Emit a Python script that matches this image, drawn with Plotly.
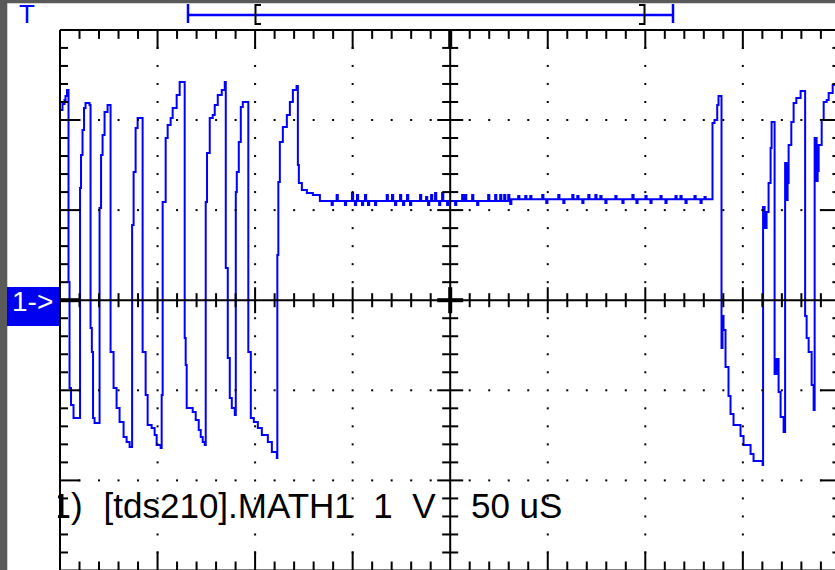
import plotly.graph_objects as go

# ---------------- data read from the capture ----------------
# x: time in microseconds from the left edge of the graticule (50 uS/div)
# y: MATH1 in volts (1 V/div, 0 V at the "1->" marker)
burst1_t = [0.26, 1.28, 2.31, 2.82, 3.59, 4.11, 4.36, 4.88, 5.65, 6.93,
            10.01, 10.27, 10.78, 11.55, 12.32, 13.09, 15.14, 15.66, 16.32, 16.94,
            17.71, 19.25, 20.28, 21.05, 21.82, 22.84, 24.38, 25.41, 25.92, 27.46,
            29.00, 30.54, 32.59, 34.14, 35.68, 36.70, 36.96, 37.73, 38.76, 39.78,
            41.84, 42.35, 43.89, 44.92, 46.97, 48.51, 49.54, 51.59, 52.11, 52.62,
            54.16, 55.18, 56.72, 57.75, 59.80, 61.34, 63.40, 63.91, 64.42, 64.94,
            68.02, 69.56, 71.10, 72.13, 73.15, 74.18, 74.69, 75.36, 76.75, 78.29,
            79.32, 80.86, 82.91, 84.45, 84.97, 85.99, 87.02, 88.05, 89.59, 90.10,
            90.62, 91.64, 92.67, 93.70, 96.26, 96.52, 97.80, 99.35, 101.40, 103.45,
            106.53, 108.59, 111.15, 111.40, 111.91, 112.68, 114.22, 116.28, 117.82, 119.36,
            121.25, 121.92, 122.43, 123.97, 126.54, 129.62, 133.21]
burst1_v = [2.111, 2.178, 2.222, 2.266, 2.333, 2.333, 0.202, -0.974, -1.163, -1.307,
            -1.307, 1.245, 1.612, 1.889, 2.133, 2.189, 2.166, -0.309, -0.575, -1.307,
            -1.363, -1.363, 1.023, 1.612, 1.834, 2.089, 2.166, 2.166, -0.575, -0.974,
            -1.196, -1.352, -1.518, -1.574, -1.629, -1.629, 0.835, 1.423, 1.911, 2.022,
            2.022, -0.575, -1.052, -1.385, -1.418, -1.496, -1.607, -1.640, -1.052, 1.090,
            1.800, 1.944, 2.022, 2.133, 2.277, 2.422, 2.422, -0.420, -0.719, -1.196,
            -1.241, -1.330, -1.441, -1.518, -1.574, -1.607, 1.090, 1.634, 2.022, 2.055,
            2.166, 2.277, 2.333, 2.422, 0.357, -0.642, -1.085, -1.196, -1.274, 1.201,
            1.423, 1.756, 2.144, 2.200, 2.200, -0.575, -1.307, -1.352, -1.418, -1.496,
            -1.574, -1.685, -1.751, 0.502, 1.312, 1.756, 1.922, 2.055, 2.200, 2.333,
            2.377, 1.501, 1.301, 1.223, 1.190, 1.168, 1.100]

idle_t = [139.22, 139.82, 141.79, 142.39, 146.05, 146.65, 149.64, 150.24, 151.18, 151.78,
          152.21, 152.81, 154.78, 155.38, 156.32, 156.92, 157.86, 158.46, 161.45, 162.05,
          167.46, 168.06, 170.18, 170.78, 171.72, 172.32, 174.29, 174.89, 175.83, 176.43,
          177.88, 178.48, 179.42, 180.02, 184.55, 185.15, 187.63, 188.23, 188.66, 189.26,
          190.20, 190.80, 192.25, 192.85, 194.31, 194.91, 195.85, 196.45, 198.41, 199.01,
          202.52, 203.12, 206.11, 206.71, 207.65, 208.25, 211.25, 211.85, 213.81, 214.41,
          219.46, 220.06, 223.05, 223.65, 225.62, 226.22, 227.67, 228.27, 229.73, 230.33,
          230.75, 231.35, 234.86, 235.46, 238.45, 239.05, 241.02, 241.62, 247.18, 247.78,
          249.23, 249.83, 255.39, 255.99, 257.96, 258.56, 262.58, 263.18, 265.15, 265.75,
          267.71, 268.31, 270.79, 271.39, 274.39, 274.99, 276.95, 277.55, 279.52, 280.12,
          284.65, 285.25, 288.25, 288.85, 293.38, 293.98, 295.44, 296.04, 300.06, 300.66,
          302.62, 303.22, 307.76, 308.36, 310.32, 310.92, 315.46, 316.06, 318.02, 318.62,
          320.59, 321.19, 325.21, 325.81, 328.29, 328.89, 330.34, 330.94, 334.29]
idle_v = [1.057, 1.100, 1.168, 1.100, 1.057, 1.100, 1.190, 1.100, 1.057, 1.100,
          1.168, 1.100, 1.057, 1.100, 1.168, 1.100, 1.057, 1.100, 1.057, 1.100,
          1.168, 1.100, 1.168, 1.100, 1.057, 1.100, 1.168, 1.100, 1.057, 1.100,
          1.168, 1.100, 1.057, 1.100, 1.168, 1.100, 1.145, 1.100, 1.057, 1.100,
          1.168, 1.100, 1.190, 1.100, 1.057, 1.100, 1.190, 1.100, 1.057, 1.100,
          1.057, 1.100, 1.168, 1.100, 1.168, 1.100, 1.168, 1.100, 1.057, 1.100,
          1.168, 1.100, 1.168, 1.100, 1.168, 1.100, 1.168, 1.100, 1.168, 1.120,
          1.068, 1.120, 1.156, 1.120, 1.156, 1.120, 1.156, 1.120, 1.168, 1.120,
          1.079, 1.120, 1.168, 1.120, 1.079, 1.120, 1.168, 1.120, 1.156, 1.120,
          1.079, 1.120, 1.168, 1.120, 1.168, 1.120, 1.156, 1.120, 1.079, 1.120,
          1.156, 1.120, 1.079, 1.120, 1.168, 1.120, 1.079, 1.120, 1.156, 1.120,
          1.079, 1.120, 1.156, 1.120, 1.079, 1.120, 1.156, 1.120, 1.156, 1.120,
          1.079, 1.120, 1.156, 1.120, 1.079, 1.120, 1.145, 1.120, 1.120]

burst2_t = [334.44, 335.47, 336.86, 337.52, 338.81, 339.06, 339.57, 340.09, 341.11, 342.65,
            343.68, 345.22, 347.27, 348.81, 350.35, 353.95, 355.49, 360.11, 360.37, 361.14,
            362.16, 363.19, 364.22, 364.73, 366.02, 366.27, 367.30, 368.32, 369.35, 370.89,
            371.40, 371.66, 372.43, 372.94, 373.46, 374.84, 376.02, 377.41, 379.61, 381.67,
            381.92, 382.69, 383.72, 385.26, 386.28, 386.80, 387.83, 388.34, 388.86, 390.40,
            391.43, 392.97, 393.99, 396.05, 398.10]
burst2_v = [1.967, 2.000, 2.166, 2.266, 2.266, -0.531, -0.175, -0.331, -0.741, -1.063,
            -1.263, -1.385, -1.385, -1.507, -1.607, -1.707, -1.785, -1.829, 1.034, 0.801,
            0.979, 1.301, 1.689, 1.978, 1.978, -0.819, -0.653, -1.019, -1.296, -1.463,
            -1.463, 1.523, 1.112, 1.301, 1.723, 1.978, 2.189, 2.244, 2.322, 2.322,
            -0.175, -0.420, -0.575, -0.941, -1.219, 1.800, 1.323, 1.434, 1.723, 2.000,
            2.200, 2.222, 2.300, 2.388, 2.488]

# readout texts
readout_texts = ["1)", "[tds210].MATH1", "1", "V", "50 uS"]
channel_marker = "1->"
trigger_marker = "T"

US_PER_DIV = 50
V_PER_DIV = 1
X_DIVS = 8
Y_TOP, Y_BOT = 3, -3

# ---------------- geometry / styling ----------------
W, H = 835, 570
PLOT_L, PLOT_T = 58, 27
PLOT_W, PLOT_H = W - PLOT_L, H - PLOT_T
PX_PER_US = 97.55 / US_PER_DIV
PX_PER_V = 90.1 / V_PER_DIV
X0_PX = 60.0      # pixel of t = 0
Y0_PX = 300.2     # pixel of v = 0

x_range = [(PLOT_L - X0_PX) / PX_PER_US, (W - X0_PX) / PX_PER_US]
y_range = [(Y0_PX - H) / PX_PER_V, (Y0_PX - PLOT_T) / PX_PER_V]


def dxu(px):
    return px / PX_PER_US


def dyu(px):
    return px / PX_PER_V


def pxx(px):
    return (px - PLOT_L) / PLOT_W


def pxy(py):
    return (PLOT_T + PLOT_H - py) / PLOT_H


BLUE = "#0000ff"
FONT = "Liberation Sans, Arial, sans-serif"
wave_t = burst1_t + idle_t + burst2_t
wave_v = burst1_v + idle_v + burst2_v
assert len(wave_t) == len(wave_v)

t_end = X_DIVS * US_PER_DIV
t_mid = t_end / 2
minor_t = US_PER_DIV / 5
minor_v = V_PER_DIV / 5

# graticule segments
seg_x, seg_y = [], []
thick_x, thick_y = [], []


def seg(x0, y0, x1, y1, thick=False):
    tx, ty = (thick_x, thick_y) if thick else (seg_x, seg_y)
    tx.extend([x0, x1, None])
    ty.extend([y0, y1, None])


seg(0, Y_BOT, 0, Y_TOP)
seg(0, Y_TOP, t_end, Y_TOP)
seg(t_end, Y_BOT, t_end, Y_TOP)
seg(0, Y_BOT, t_end, Y_BOT)
seg(t_mid, Y_BOT, t_mid, Y_TOP)
seg(0, 0, t_end, 0)

n_xminor = X_DIVS * 5
for i in range(1, n_xminor):
    t = i * minor_t
    if i == n_xminor // 2:
        continue
    major = i % 5 == 0
    L = dyu(19 if major else 9)
    seg(t, Y_TOP, t, Y_TOP - L)
    seg(t, Y_BOT, t, Y_BOT + L)
    h = dyu(13 if major else 7)
    seg(t, -h, t, h)

n_yminor = int(round((Y_TOP - Y_BOT) / minor_v))
for j in range(1, n_yminor):
    v = Y_BOT + j * minor_v
    if j == n_yminor // 2:
        continue
    major = j % 5 == 0
    L = dxu(20 if major else 8)
    seg(0, v, L, v)
    seg(t_end, v, t_end - L, v)
    h = dxu(13 if major else 8)
    seg(t_mid - h, v, t_mid + h, v)

# thicker marks at the centre crossing and where the centre lines meet the frame
seg(t_mid - dxu(13), 0, t_mid + dxu(13), 0, thick=True)
seg(t_mid, -dyu(13), t_mid, dyu(13), thick=True)
seg(t_mid, Y_TOP, t_mid, Y_TOP - dyu(19), thick=True)
seg(0, 0, dxu(19), 0, thick=True)

# dotted graticule
dot_x, dot_y = [], []
for v in range(Y_BOT + 1, Y_TOP):
    if v == 0:
        continue
    for i in range(1, n_xminor):
        if i == n_xminor // 2:
            continue
        dot_x.append(i * minor_t)
        dot_y.append(v)
for k in range(1, X_DIVS):
    if k == X_DIVS // 2:
        continue
    for j in range(1, n_yminor):
        if j % 5 == 0:
            continue
        dot_x.append(k * US_PER_DIV)
        dot_y.append(Y_BOT + j * minor_v)

fig = go.Figure()
fig.add_trace(go.Scatter(x=wave_t, y=wave_v, mode="lines",
                         line=dict(color=BLUE, width=2, shape="hv"),
                         hoverinfo="skip"))
fig.add_trace(go.Scatter(x=dot_x, y=dot_y, mode="markers",
                         marker=dict(symbol="square", size=2, color="black",
                                     line=dict(width=0)),
                         hoverinfo="skip"))
fig.add_trace(go.Scatter(x=seg_x, y=seg_y, mode="lines",
                         line=dict(color="black", width=2), hoverinfo="skip"))
fig.add_trace(go.Scatter(x=thick_x, y=thick_y, mode="lines",
                         line=dict(color="black", width=4), hoverinfo="skip"))

# readout line, clipped by the graticule
text_px = [67.0, 228.7, 383.0, 423.9, 516.7]
text_t = [(p - X0_PX) / PX_PER_US for p in text_px]
text_v = [(Y0_PX - 509.0) / PX_PER_V] * len(text_px)
fig.add_trace(go.Scatter(x=text_t, y=text_v, mode="text", text=readout_texts,
                         textposition="middle center",
                         textfont=dict(family=FONT, size=35, color="black"),
                         hoverinfo="skip", cliponaxis=True))

shapes = []


def rect(x0, y0, x1, y1, color):
    shapes.append(dict(type="rect", xref="paper", yref="paper",
                       x0=pxx(x0), x1=pxx(x1), y0=pxy(y1), y1=pxy(y0),
                       fillcolor=color, line=dict(width=0), layer="above"))


def pline(x0, y0, x1, y1, color, width=2):
    shapes.append(dict(type="line", xref="paper", yref="paper",
                       x0=pxx(x0), x1=pxx(x1), y0=pxy(y0), y1=pxy(y1),
                       line=dict(color=color, width=width), layer="above"))


GREY = "#5a5a5a"
rect(0, 0, 7.3, H, GREY)
rect(0, 0, W, 3.3, GREY)
rect(7, 287, 59, 326, "#0000f0")

# record-window bracket at the top
pline(188, 15, 673, 15, BLUE, 2.5)
pline(188, 4, 188, 23, BLUE, 2.5)
pline(673, 4, 673, 23, BLUE, 2.5)
pline(255.5, 4, 255.5, 25, "black", 2)
pline(255.5, 5, 261, 5, "black", 2)
pline(255.5, 24, 261, 24, "black", 2)
pline(644.5, 4, 644.5, 25, "black", 2)
pline(639, 5, 644.5, 5, "black", 2)
pline(639, 24, 644.5, 24, "black", 2)

annotations = [
    dict(x=pxx(27), y=pxy(14), xref="paper", yref="paper", text=trigger_marker,
         showarrow=False, xanchor="center", yanchor="middle",
         font=dict(family=FONT, size=26, color=BLUE)),
    dict(x=pxx(32.5), y=pxy(302), xref="paper", yref="paper", text=channel_marker,
         showarrow=False, xanchor="center", yanchor="middle",
         font=dict(family=FONT, size=28, color="white")),
]

fig.update_layout(
    width=W, height=H,
    margin=dict(l=PLOT_L, r=0, t=PLOT_T, b=0, pad=0),
    paper_bgcolor="white", plot_bgcolor="white",
    showlegend=False,
    xaxis=dict(range=x_range, visible=False, fixedrange=True),
    yaxis=dict(range=y_range, visible=False, fixedrange=True),
    shapes=shapes, annotations=annotations,
)

fig.write_html("out.html",
               config={"displayModeBar": False, "staticPlot": True},
               post_script="document.body.style.margin='0';"
                           "document.body.style.overflow='hidden';")
